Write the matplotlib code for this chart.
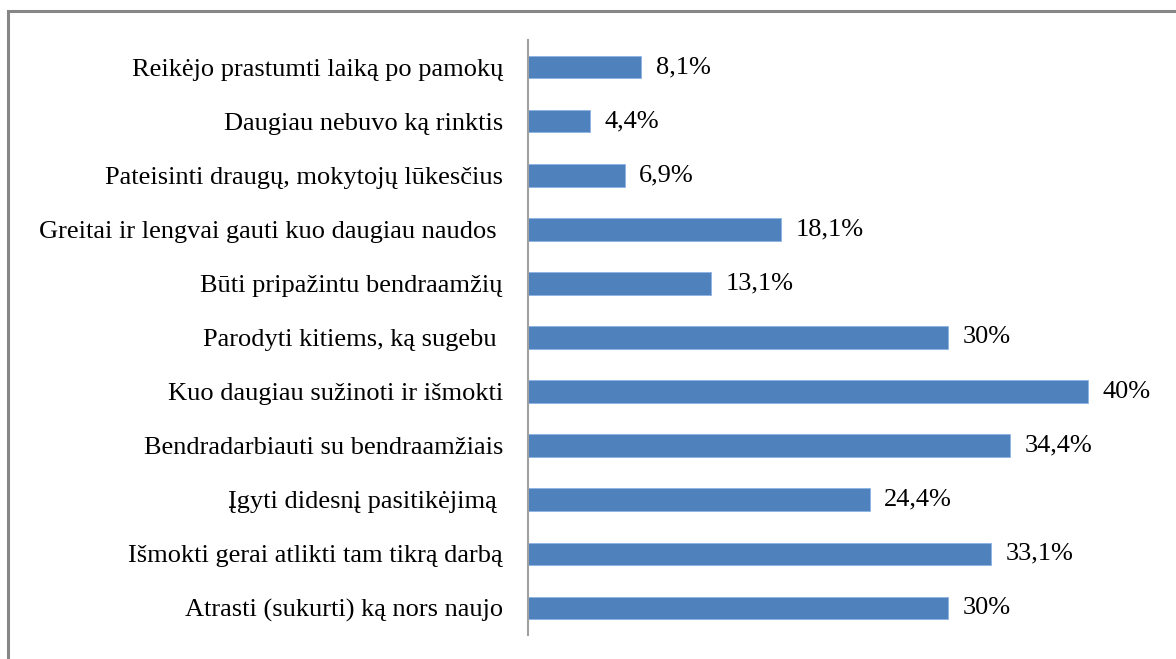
import matplotlib.pyplot as plt
from matplotlib.patches import Rectangle

# kategorijos is virsaus i apacia
labels = [
    'Reikėjo prastumti laiką po pamokų',
    'Daugiau nebuvo ką rinktis',
    'Pateisinti draugų, mokytojų lūkesčius',
    'Greitai ir lengvai gauti kuo daugiau naudos ',
    'Būti pripažintu bendraamžių',
    'Parodyti kitiems, ką sugebu ',
    'Kuo daugiau sužinoti ir išmokti',
    'Bendradarbiauti su bendraamžiais',
    'Įgyti didesnį pasitikėjimą ',
    'Išmokti gerai atlikti tam tikrą darbą',
    'Atrasti (sukurti) ką nors naujo',
]
values = [8.1, 4.4, 6.9, 18.1, 13.1, 30, 40, 34.4, 24.4, 33.1, 30]
value_text = ['8,1%', '4,4%', '6,9%', '18,1%', '13,1%', '30%', '40%',
              '34,4%', '24,4%', '33,1%', '30%']

plt.rcParams['font.family'] = ['Liberation Serif', 'DejaVu Serif']

fig = plt.figure(figsize=(11.76, 6.59), dpi=100)
ax = fig.add_axes([528 / 1176, 24 / 659, 630 / 1176, 595 / 659])

ypos = list(range(len(labels)))[::-1]
ax.barh(ypos, values, height=0.42, color='#4F81BD', edgecolor='#8EB4E3', linewidth=0.6)

for y, v, t in zip(ypos, values, value_text):
    ax.text(v + 1.05, y, t, va='center', ha='left', fontsize=19)

ax.set_yticks(ypos)
ax.set_yticklabels(labels, fontsize=19)
ax.set_ylim(-0.5, 10.5)
ax.set_xlim(0, 45)
ax.set_xticks([])
ax.tick_params(axis='y', length=0, pad=18)
for s in ['top', 'right', 'bottom']:
    ax.spines[s].set_visible(False)
ax.spines['left'].set_color('#A0A0A0')
ax.spines['left'].set_linewidth(1.5)

# pilkas remelis aplink diagrama
fig.patches.append(Rectangle((8 / 1176, -0.1), 1.2, (659 - 11) / 659 + 0.1,
                             transform=fig.transFigure, fill=False,
                             edgecolor='#868686', linewidth=2.2))

fig.savefig('out.png', dpi=100)
